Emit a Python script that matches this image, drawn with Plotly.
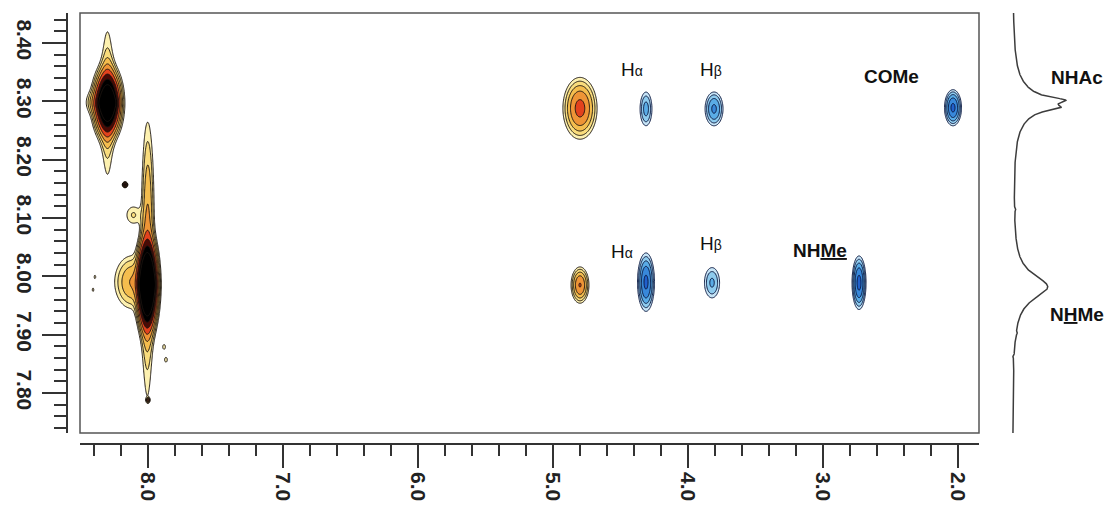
import numpy as np
import plotly.graph_objects as go

# ---------------- data ----------------
# axis ticks (ppm)
x_tick_vals = [8.0, 7.0, 6.0, 5.0, 4.0, 3.0, 2.0]
x_tick_text = ['8.0', '7.0', '6.0', '5.0', '4.0', '3.0', '2.0']
y_tick_vals = [8.40, 8.30, 8.20, 8.10, 8.00, 7.90, 7.80]
y_tick_text = ['8.40', '8.30', '8.20', '8.10', '8.00', '7.90', '7.80']
x_minor_vals = [round(v, 1) for v in np.arange(2.0, 8.41, 0.2)]
y_minor_vals = [round(v, 2) for v in np.arange(7.74, 8.441, 0.02)]

x_range = [8.5037, 1.8444]
y_range = [7.7314, 8.4514]

# positive (in-phase, warm colours) peaks: F2 ppm, F1 ppm, height, widths, lorentzian-in-F1 flag
pos_x   = [8.300, 8.300, 8.370, 8.005, 8.005, 8.000, 8.120, 8.108, 8.393, 8.407, 7.881, 7.867, 8.170, 8.000, 4.800, 4.800]
pos_y   = [8.297, 8.297, 8.298, 7.986, 7.986, 8.125, 7.990, 8.105, 7.999, 7.977, 7.879, 7.857, 8.157, 7.788, 8.288, 7.985]
pos_amp = [60, 150, 4.0, 120, 200, 3.0, 5.0, 1.8, 1.3, 1.3, 1.4, 1.4, 30, 12, 10.0, 8.6]
pos_wx  = [0.045, 0.030, 0.050, 0.033, 0.027, 0.026, 0.070, 0.044, 0.008, 0.008, 0.012, 0.012, 0.008, 0.006, 0.059, 0.032]
pos_wy  = [0.025, 0.010, 0.012, 0.032, 0.0135, 0.075, 0.025, 0.0127, 0.004, 0.004, 0.005, 0.005, 0.002, 0.002, 0.0247, 0.015]
pos_lor = [0, 1, 0, 0, 1, 0, 0, 0, 0, 0, 0, 0, 0, 0, 0, 0]

# negative (anti-phase, blue) cross peaks
neg_x   = [4.311, 3.807, 2.037, 4.311, 3.822, 2.733]
neg_y   = [8.287, 8.287, 8.289, 7.990, 7.989, 7.989]
neg_amp = [3.6, 5.5, 9.5, 9.5, 3.2, 10.0]
neg_wx  = [0.0275, 0.036, 0.0297, 0.0297, 0.0367, 0.0242]
neg_wy  = [0.018, 0.0157, 0.0146, 0.0236, 0.0170, 0.0214]

# 1D projection (F1) peaks
proj_ppm = [8.302, 8.289, 8.297, 7.982, 8.114, 7.902, 7.862]
proj_h   = [26, 21, 24, 35, 1.5, 1.5, -1.5]
proj_w   = [0.006, 0.006, 0.030, 0.026, 0.002, 0.002, 0.002]
proj_base = 0.5

# labels
GA = '<span style="font-size:14px">α</span>'
GB = '<span style="font-size:14px">β</span>'
lab2d_text = ['H' + GA, 'H' + GB, 'H' + GA, 'H' + GB, '<b>COMe</b>', '<b>NH<u>Me</u></b>']
lab2d_x = [4.415, 3.830, 4.489, 3.830, 2.496, 3.022]
lab2d_y = [8.354, 8.354, 8.043, 8.057, 8.342, 8.045]
labproj_text = ['<b>NHAc</b>', '<b>N<u>H</u>Me</b>']
labproj_y = [8.341, 7.935]

# ---------------- helpers ----------------
W, H = 1116, 511


def lattice(centers, half, step, lo, hi):
    idx = set()
    for c in centers:
        a = int(np.floor(max(lo, c - half) / step))
        b = int(np.ceil(min(hi, c + half) / step))
        idx.update(range(a, b + 1))
    idx.add(int(np.floor(lo / step)))
    idx.add(int(np.ceil(hi / step)))
    return np.array(sorted(idx)) * step


def field(xg, yg, px, py, amp, wx, wy, lor):
    X, Y = np.meshgrid(xg, yg)
    Z = np.zeros_like(X)
    for x0, y0, a, sx, sy, l in zip(px, py, amp, wx, wy, lor):
        u = (X - x0) / sx
        s = (Y - y0) / sy
        fy = 1.0 / (1.0 + s * s) if l else np.exp(-0.5 * s * s)
        Z += a * np.exp(-0.5 * u * u) * fy
    return np.round(np.log(np.maximum(Z, 0.3)), 3).astype(np.float32)


step = float(np.log(1.7))

pos_cols = ['rgba(255,255,255,0)', '#fdf1b0', '#f9dc7c', '#f4bd4e', '#ee9436',
            '#e2421d', '#4a0a05', '#000000', '#000000']
neg_cols = ['rgba(255,255,255,0)', '#c6e4f6', '#8ecbee', '#5aace6', '#3888da',
            '#2160cc', '#1544a8', '#0c2f88']


def cscale(cols):
    n = len(cols) - 1
    return [[j / n, c] for j, c in enumerate(cols)]


# positive field
xg_p = lattice(pos_x, 0.25, 0.004, 1.80, 8.55)
yg_p = lattice(pos_y, 0.60, 0.0015, 7.72, 8.46)
zp = field(xg_p, yg_p, pos_x, pos_y, pos_amp, pos_wx, pos_wy, pos_lor)

# negative field
xg_n = lattice(neg_x, 0.20, 0.004, 1.80, 8.55)
yg_n = lattice(neg_y, 0.13, 0.0015, 7.72, 8.46)
zn = field(xg_n, yg_n, neg_x, neg_y, neg_amp, neg_wx, neg_wy, [0] * len(neg_x))

# projection
yp = np.linspace(y_range[0], y_range[1], 1600)
proj = np.full_like(yp, proj_base)
for c, h, w in zip(proj_ppm, proj_h, proj_w):
    proj += h / (1.0 + ((yp - c) / w) ** 2)

fig = go.Figure()
fig.add_trace(go.Contour(
    x=xg_p, y=yg_p, z=zp, autocontour=False, showscale=False, hoverinfo='skip',
    contours=dict(start=0, end=step * (len(pos_cols) - 2), size=step, coloring='fill', showlines=True),
    colorscale=cscale(pos_cols), line=dict(color='#1b1410', width=1)))
fig.add_trace(go.Contour(
    x=xg_n, y=yg_n, z=zn, autocontour=False, showscale=False, hoverinfo='skip',
    contours=dict(start=0, end=step * (len(neg_cols) - 2), size=step, coloring='fill', showlines=True),
    colorscale=cscale(neg_cols), line=dict(color='#0a1840', width=1)))
fig.add_trace(go.Scatter(x=proj, y=yp, xaxis='x2', yaxis='y', mode='lines',
                         line=dict(color='#3c3c3c', width=1.5), hoverinfo='skip'))

tickfont = dict(family='Liberation Sans', size=21, color='#222222', weight='bold')
x_dom = [80 / W, 979 / W]
y_dom = [78 / H, 498 / H]

fig.update_layout(
    width=W, height=H, margin=dict(l=0, r=0, t=0, b=0), autosize=False,
    paper_bgcolor='white', plot_bgcolor='white', showlegend=False,
    xaxis=dict(domain=x_dom, range=x_range, anchor='free', position=(H - 444) / H,
               showline=True, linecolor='#333333', linewidth=1.5, showgrid=False, zeroline=False,
               ticks='outside', ticklen=23, tickwidth=1.5, tickcolor='#333333',
               tickmode='array', tickvals=x_tick_vals, ticktext=x_tick_text, tickangle=90,
               tickfont=tickfont, automargin=False,
               minor=dict(tickmode='array', tickvals=x_minor_vals, ticks='outside', ticklen=11,
                          tickwidth=1.5, tickcolor='#333333', showgrid=False)),
    yaxis=dict(domain=y_dom, range=y_range, anchor='free', position=67 / W,
               showline=True, linecolor='#333333', linewidth=1.5, showgrid=False, zeroline=False,
               ticks='outside', ticklen=24, tickwidth=1.5, tickcolor='#333333',
               tickmode='array', tickvals=y_tick_vals, ticktext=y_tick_text, tickangle=90,
               tickfont=tickfont, automargin=False,
               minor=dict(tickmode='array', tickvals=y_minor_vals, ticks='outside', ticklen=12,
                          tickwidth=1.5, tickcolor='#333333', showgrid=False)),
    xaxis2=dict(domain=[1000 / W, 1.0], range=[-12, 104], anchor='y', visible=False),
)

fig.add_shape(type='rect', xref='paper', yref='paper', x0=x_dom[0], x1=x_dom[1],
              y0=y_dom[0], y1=y_dom[1], line=dict(color='#555555', width=1.5), layer='above')

for t, x, y in zip(lab2d_text, lab2d_x, lab2d_y):
    fig.add_annotation(x=x, y=y, xref='x', yref='y', text=t, showarrow=False,
                       xanchor='center', yanchor='middle',
                       font=dict(family='Liberation Sans', size=19, color='#111111'))
for t, y in zip(labproj_text, labproj_y):
    fig.add_annotation(x=1077 / W, y=y, xref='paper', yref='y', text=t, showarrow=False,
                       xanchor='center', yanchor='middle',
                       font=dict(family='Liberation Sans', size=19, color='#111111'))

fig.write_html("out.html")
